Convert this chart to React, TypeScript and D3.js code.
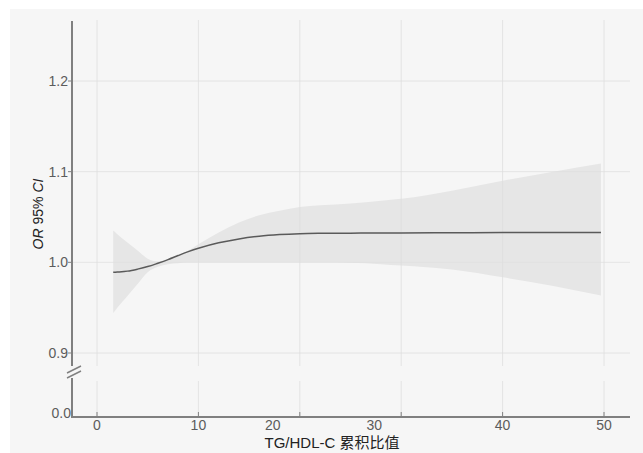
import { useEffect, useRef } from 'react'
import * as d3 from 'd3'

// TG/HDL-C cumulative ratio -> OR with 95% CI
const xs = [1.6, 2, 3, 4, 5, 6, 7, 8, 9, 10, 12, 14, 16, 18, 20, 22, 25, 28, 30, 35, 40, 45, 49.7]
const orFit = [0.989, 0.9893, 0.9903, 0.9925, 0.9953, 0.999, 1.003, 1.0075, 1.0118, 1.0155, 1.0215, 1.0258, 1.0288,
  1.0306, 1.0316, 1.032, 1.0322, 1.0323, 1.0324, 1.0326, 1.0328, 1.0329, 1.033]
const ciUpper = [1.035, 1.031, 1.022, 1.013, 1.004, 1.001, 1.003, 1.007, 1.013, 1.02, 1.033, 1.044, 1.052,
  1.057, 1.061, 1.063, 1.065, 1.068, 1.07, 1.079, 1.09, 1.1, 1.109]
const ciLower = [0.944, 0.95, 0.963, 0.976, 0.989, 0.995, 0.998, 0.999, 1.0, 1.0, 1.0, 1.0, 1.0,
  1.0, 1.0, 1.0, 0.9995, 0.998, 0.9965, 0.992, 0.9835, 0.974, 0.9635]

const xTicks = [0, 10, 20, 30, 40, 50]
const yTicks = [0.9, 1.0, 1.1, 1.2]
// the source figure has the 20 and 30 labels nudged left of their ticks
const xLabelShift: Record<number, number> = { 20: -27, 30: -27 }

const W = 643
const H = 453
const AXIS_X = 72
const AXIS_Y = 417
const X_END = 630
const TOP = 21
const BREAK_TOP = 366
const BREAK_BOT = 378

const FONT = '"Liberation Sans", Arial, "Noto Sans CJK SC", sans-serif'

export default function App() {
  const svgRef = useRef<SVGSVGElement>(null)

  useEffect(() => {
    if (!svgRef.current) return
    const svg = d3.select(svgRef.current)
    svg.selectAll('*').remove()

    const x = d3.scaleLinear().domain([0, 50]).range([97, 604])
    const y = d3.scaleLinear().domain([0.9, 1.2]).range([353, 81])

    svg.append('rect').attr('width', W).attr('height', H).attr('fill', '#ffffff')
    svg.append('rect').attr('x', 10).attr('y', 9).attr('width', W - 10).attr('height', H - 9).attr('fill', '#f6f6f6')

    const rows = xs.map((v, i) => ({ x: v, fit: orFit[i], lo: ciLower[i], hi: ciUpper[i] }))

    // confidence band
    const area = d3.area<typeof rows[0]>()
      .x(d => x(d.x))
      .y0(d => y(d.lo))
      .y1(d => y(d.hi))
      .curve(d3.curveMonotoneX)
    svg.append('path').datum(rows).attr('d', area).attr('fill', '#e6e6e6')

    // grid
    const grid = svg.append('g').attr('stroke', '#dedede').attr('stroke-opacity', 0.75).attr('stroke-width', 1)
    yTicks.forEach(t => {
      grid.append('line').attr('x1', AXIS_X).attr('x2', X_END).attr('y1', y(t)).attr('y2', y(t))
    })
    xTicks.forEach(t => {
      grid.append('line').attr('x1', x(t)).attr('x2', x(t)).attr('y1', 20).attr('y2', BREAK_TOP)
      grid.append('line').attr('x1', x(t)).attr('x2', x(t)).attr('y1', BREAK_BOT + 3).attr('y2', AXIS_Y)
    })

    // fitted line
    const line = d3.line<typeof rows[0]>().x(d => x(d.x)).y(d => y(d.fit)).curve(d3.curveCatmullRom.alpha(0.5))
    svg.append('path').datum(rows).attr('d', line).attr('fill', 'none')
      .attr('stroke', '#5a5a5a').attr('stroke-width', 1.5)

    // axes
    const ax = svg.append('g').attr('stroke', '#808080').attr('stroke-width', 2)
    ax.append('line').attr('x1', AXIS_X).attr('x2', AXIS_X).attr('y1', TOP).attr('y2', BREAK_TOP)
    ax.append('line').attr('x1', AXIS_X).attr('x2', AXIS_X).attr('y1', BREAK_BOT).attr('y2', AXIS_Y + 1)
    ax.append('line').attr('x1', AXIS_X - 1).attr('x2', X_END).attr('y1', AXIS_Y).attr('y2', AXIS_Y)
    // break marks
    ax.append('line').attr('x1', 67).attr('y1', 373).attr('x2', 81).attr('y2', 366).attr('stroke-width', 1.5)
    ax.append('line').attr('x1', 67).attr('y1', 378).attr('x2', 81).attr('y2', 371).attr('stroke-width', 1.5)

    yTicks.forEach(t => {
      ax.append('line').attr('x1', AXIS_X - 4).attr('x2', AXIS_X).attr('y1', y(t)).attr('y2', y(t)).attr('stroke-width', 1)
    })
    xTicks.forEach(t => {
      ax.append('line').attr('x1', x(t)).attr('x2', x(t)).attr('y1', AXIS_Y - 5).attr('y2', AXIS_Y).attr('stroke-width', 1)
    })

    // tick labels
    const labels = svg.append('g').attr('font-family', FONT).attr('font-size', 14).attr('fill', '#5c5c5c')
    yTicks.forEach(t => {
      labels.append('text').attr('x', AXIS_X - 4).attr('y', y(t)).attr('dy', '0.35em')
        .attr('text-anchor', 'end').text(d3.format('.1f')(t))
    })
    labels.append('text').attr('x', AXIS_X - 1).attr('y', AXIS_Y - 4).attr('dy', '0.35em')
      .attr('text-anchor', 'end').text('0.0')
    xTicks.forEach(t => {
      const shift = xLabelShift[t] || 0
      labels.append('text').attr('x', x(t) + shift).attr('y', 430)
        .attr('text-anchor', 'middle').text(t)
    })

    // axis titles
    const yTitle = svg.append('text')
      .attr('transform', 'translate(43,214) rotate(-90)')
      .attr('text-anchor', 'middle')
      .attr('font-family', FONT)
      .attr('font-size', 14)
      .attr('fill', '#222')
    yTitle.append('tspan').attr('font-style', 'italic').text('OR')
    yTitle.append('tspan').text(' 95% ')
    yTitle.append('tspan').attr('font-style', 'italic').text('CI')

    svg.append('text')
      .attr('x', 332).attr('y', 448)
      .attr('text-anchor', 'middle')
      .attr('font-family', FONT)
      .attr('font-size', 15)
      .attr('fill', '#222')
      .text('TG/HDL-C 累积比值')
  }, [])

  return (
    <svg
      ref={svgRef}
      width={W}
      height={H}
      style={{ position: 'absolute', left: 0, top: 0, display: 'block' }}
    />
  )
}
